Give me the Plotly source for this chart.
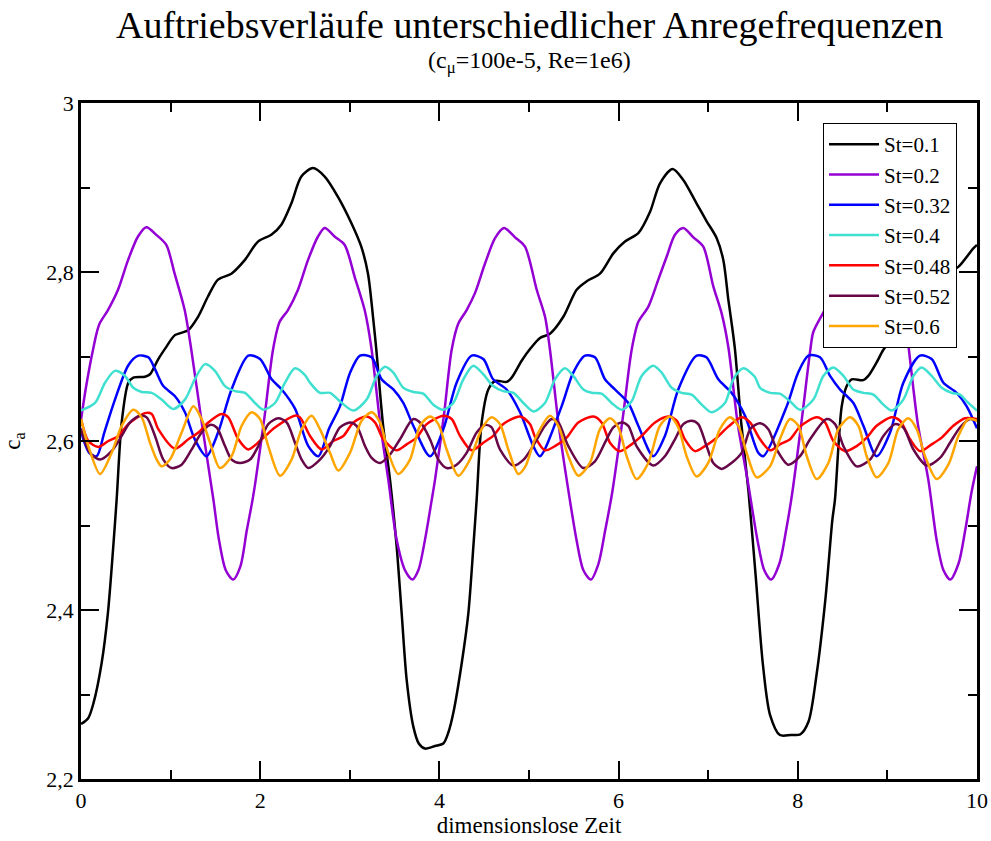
import plotly.graph_objects as go

# ---------------- data ----------------
t_01 = [0.0, 0.08, 0.14, 0.23, 0.30, 0.36, 0.398, 0.454, 0.528, 0.584, 0.714, 0.77, 0.863, 0.956, 1.045, 1.194, 1.306,
        1.417, 1.529, 1.678, 1.827, 1.975, 2.124, 2.236, 2.347, 2.459, 2.589, 2.72, 2.868, 3.017, 3.128,
        3.203, 3.259, 3.296, 3.37, 3.449, 3.523, 3.579, 3.635, 3.709, 3.77, 3.839, 3.951, 4.044, 4.10,
        4.155, 4.249, 4.323, 4.379, 4.416, 4.472, 4.546, 4.621, 4.751, 4.807, 4.918, 5.02, 5.123, 5.234,
        5.383, 5.532, 5.644, 5.792, 5.941, 6.071, 6.22, 6.35, 6.462, 6.603, 6.722, 6.871, 6.983, 7.095,
        7.169, 7.225, 7.262, 7.299, 7.37, 7.45, 7.53, 7.61, 7.69, 7.80, 7.92, 8.03, 8.12, 8.21, 8.31,
        8.385, 8.415, 8.49, 8.546, 8.601, 8.731, 8.787, 8.88, 8.955, 9.067, 9.196, 9.31, 9.42, 9.53,
        9.65, 9.791, 9.959, 10.0]
v_01 = [2.265, 2.272, 2.29, 2.337, 2.396, 2.475, 2.531, 2.622, 2.669, 2.675, 2.676, 2.679, 2.697, 2.712, 2.725, 2.731, 2.747,
        2.771, 2.791, 2.798, 2.814, 2.836, 2.844, 2.856, 2.881, 2.913, 2.923, 2.913, 2.889, 2.858, 2.83,
        2.798, 2.747, 2.708, 2.62, 2.554, 2.475, 2.396, 2.317, 2.262, 2.242, 2.236, 2.239, 2.242, 2.255,
        2.278, 2.337, 2.396, 2.475, 2.531, 2.622, 2.661, 2.671, 2.670, 2.675, 2.695, 2.71, 2.722, 2.727,
        2.747, 2.779, 2.789, 2.798, 2.822, 2.836, 2.846, 2.871, 2.905, 2.922, 2.909, 2.881, 2.86, 2.84,
        2.814, 2.767, 2.739, 2.708, 2.62, 2.54, 2.44, 2.336, 2.276, 2.252, 2.252, 2.253, 2.268, 2.324, 2.415,
        2.506, 2.531, 2.641, 2.665, 2.673, 2.672, 2.677, 2.693, 2.708, 2.722, 2.728, 2.745, 2.769, 2.789,
        2.797, 2.806, 2.828, 2.832]

t_02 = [0.0, 0.05, 0.1, 0.134, 0.175, 0.208, 0.301, 0.413, 0.525, 0.636, 0.729, 0.84, 0.952, 1.045, 1.157,
        1.231, 1.35, 1.477, 1.54, 1.616, 1.698, 1.78, 1.85, 1.914, 1.95, 2.05, 2.143, 2.217, 2.31, 2.422,
        2.533, 2.645, 2.72, 2.83, 2.943, 3.055, 3.166, 3.24, 3.34, 3.43, 3.523, 3.616, 3.698, 3.765, 3.839,
        3.914, 3.951, 4.05, 4.137, 4.211, 4.304, 4.397, 4.509, 4.621, 4.721, 4.844, 4.955, 5.086, 5.179,
        5.234, 5.33, 5.421, 5.532, 5.607, 5.69, 5.776, 5.85, 5.93, 6.05, 6.146, 6.22, 6.332, 6.443, 6.536,
        6.629, 6.722, 6.834, 6.945, 7.057, 7.15, 7.225, 7.33, 7.439, 7.551, 7.626, 7.701, 7.795, 7.869,
        7.94, 8.05, 8.14, 8.173, 8.3, 8.42, 8.53, 8.64, 8.72, 8.83, 8.94, 9.05, 9.16, 9.215, 9.24, 9.34,
        9.457, 9.551, 9.626, 9.701, 9.794, 9.868, 9.94, 10.0]
v_02 = [2.625, 2.66, 2.69, 2.708, 2.728, 2.739, 2.755, 2.779, 2.814, 2.842, 2.853, 2.844, 2.832, 2.798, 2.755,
        2.708, 2.62, 2.531, 2.483, 2.447, 2.436, 2.452, 2.494, 2.530, 2.554, 2.63, 2.708, 2.741, 2.755, 2.779,
        2.814, 2.842, 2.852, 2.842, 2.832, 2.794, 2.755, 2.711, 2.62, 2.554, 2.483, 2.447, 2.436, 2.447, 2.483,
        2.530, 2.554, 2.63, 2.708, 2.739, 2.755, 2.775, 2.81, 2.84, 2.852, 2.841, 2.83, 2.779, 2.747,
        2.708, 2.62, 2.554, 2.482, 2.447, 2.436, 2.455, 2.494, 2.54, 2.63, 2.708, 2.741, 2.759, 2.791, 2.818,
        2.844, 2.852, 2.841, 2.83, 2.783, 2.751, 2.711, 2.62, 2.554, 2.482, 2.447, 2.436, 2.455, 2.494,
        2.54, 2.63, 2.708, 2.729, 2.755, 2.779, 2.814, 2.842, 2.852, 2.842, 2.832, 2.794, 2.755, 2.729, 2.708, 2.62,
        2.554, 2.482, 2.447, 2.436, 2.455, 2.494, 2.54, 2.57]

t_032 = [0.0, 0.026, 0.1, 0.175, 0.26, 0.379, 0.53, 0.64, 0.752, 0.826, 0.919, 1.049, 1.16, 1.27, 1.40,
         1.53, 1.68, 1.867, 1.998, 2.128, 2.24, 2.39, 2.537, 2.649, 2.77, 2.89, 3.0, 3.114, 3.244, 3.355,
         3.486, 3.597, 3.709, 3.895, 4.044, 4.192, 4.36, 4.49, 4.60, 4.75, 4.90, 5.048, 5.122, 5.364, 5.49,
         5.625, 5.736, 5.848, 5.959, 6.108, 6.22, 6.387, 6.517, 6.666, 6.871, 6.98, 7.113, 7.26, 7.41,
         7.559, 7.616, 7.876, 8.0, 8.118, 8.248, 8.36, 8.471, 8.62, 8.732, 8.88, 9.03, 9.178, 9.364, 9.494,
         9.625, 9.773, 9.885, 10.0]
v_032 = [2.615, 2.602, 2.585, 2.582, 2.61, 2.649, 2.69, 2.701, 2.699, 2.685, 2.665, 2.653, 2.634, 2.602, 2.582,
         2.610, 2.661, 2.701, 2.697, 2.673, 2.661, 2.638, 2.594, 2.582, 2.615, 2.641, 2.68, 2.701, 2.699, 2.673,
         2.661, 2.645, 2.618, 2.582, 2.614, 2.669, 2.701, 2.697, 2.673, 2.661, 2.634, 2.594, 2.582, 2.641, 2.68,
         2.701, 2.699, 2.673, 2.661, 2.645, 2.618, 2.582, 2.606, 2.661, 2.701, 2.699, 2.673, 2.657, 2.630,
         2.586, 2.582, 2.641, 2.68, 2.701, 2.699, 2.677, 2.661, 2.645, 2.618, 2.582, 2.610, 2.669, 2.701, 2.697,
         2.669, 2.657, 2.641, 2.615]

t_04 = [0.0, 0.156, 0.268, 0.379, 0.491, 0.584, 0.677, 0.789, 0.90, 1.03, 1.16, 1.27, 1.384, 1.495, 1.607,
        1.719, 1.83, 1.942, 2.035, 2.165, 2.277, 2.388, 2.5, 2.556, 2.667, 2.779, 2.89, 3.04, 3.188, 3.30,
        3.393, 3.486, 3.597, 3.709, 3.82, 3.932, 4.044, 4.155, 4.267, 4.378, 4.49, 4.60, 4.713, 4.825, 4.937,
        5.05, 5.178, 5.29, 5.401, 5.494, 5.606, 5.699, 5.81, 5.922, 6.034, 6.145, 6.257, 6.387, 6.48, 6.592,
        6.703, 6.815, 6.927, 7.038, 7.187, 7.28, 7.392, 7.52, 7.579, 7.69, 7.8, 7.913, 8.025, 8.174, 8.285,
        8.397, 8.509, 8.62, 8.732, 8.843, 8.955, 9.048, 9.178, 9.29, 9.383, 9.494, 9.606, 9.718, 9.81, 9.885,
        10.0]
v_04 = [2.636, 2.645, 2.669, 2.683, 2.677, 2.663, 2.658, 2.657, 2.649, 2.638, 2.649, 2.673, 2.691, 2.683, 2.665,
        2.659, 2.657, 2.645, 2.637, 2.645, 2.669, 2.686, 2.678, 2.669, 2.657, 2.657, 2.647, 2.636, 2.649, 2.677,
        2.688, 2.681, 2.663, 2.658, 2.656, 2.643, 2.637, 2.645, 2.673, 2.689, 2.679, 2.665, 2.659, 2.657, 2.645,
        2.635, 2.645, 2.673, 2.686, 2.677, 2.661, 2.657, 2.656, 2.645, 2.637, 2.647, 2.677, 2.689, 2.681, 2.663,
        2.657, 2.655, 2.643, 2.634, 2.645, 2.673, 2.686, 2.676, 2.663, 2.657, 2.656, 2.647, 2.637, 2.649, 2.677,
        2.687, 2.677, 2.661, 2.657, 2.655, 2.643, 2.636, 2.649, 2.677, 2.687, 2.677, 2.663, 2.657, 2.655, 2.647,
        2.636]

t_048 = [0.0, 0.082, 0.193, 0.305, 0.417, 0.528, 0.714, 0.789, 0.863, 1.049, 1.198, 1.31, 1.421, 1.57, 1.644,
         1.756, 1.867, 2.016, 2.165, 2.388, 2.444, 2.556, 2.686, 2.816, 2.928, 3.04, 3.188, 3.281, 3.374,
         3.523, 3.634, 3.746, 3.858, 4.044, 4.137, 4.23, 4.36, 4.49, 4.60, 4.713, 4.9, 5.01, 5.067, 5.178,
         5.29, 5.42, 5.55, 5.718, 5.81, 5.904, 6.015, 6.145, 6.257, 6.406, 6.555, 6.648, 6.74, 6.852, 6.964,
         7.075, 7.224, 7.373, 7.467, 7.579, 7.69, 7.8, 7.913, 8.025, 8.211, 8.304, 8.397, 8.527, 8.657, 8.769,
         8.88, 9.048, 9.141, 9.253, 9.364, 9.494, 9.606, 9.736, 9.867, 10.0]
v_048 = [2.626, 2.600, 2.593, 2.600, 2.606, 2.620, 2.633, 2.632, 2.614, 2.591, 2.602, 2.610, 2.622, 2.632, 2.628,
         2.602, 2.590, 2.602, 2.616, 2.630, 2.628, 2.606, 2.590, 2.600, 2.606, 2.622, 2.629, 2.622, 2.602,
         2.589, 2.596, 2.604, 2.620, 2.630, 2.626, 2.606, 2.589, 2.598, 2.606, 2.620, 2.629, 2.620, 2.605, 2.589,
         2.594, 2.604, 2.622, 2.629, 2.622, 2.598, 2.588, 2.596, 2.606, 2.622, 2.629, 2.624, 2.602, 2.588, 2.594,
         2.602, 2.617, 2.628, 2.622, 2.602, 2.589, 2.596, 2.602, 2.617, 2.628, 2.622, 2.600, 2.588, 2.594, 2.604,
         2.618, 2.628, 2.624, 2.602, 2.588, 2.596, 2.604, 2.618, 2.627, 2.626]

t_052 = [0.0, 0.1, 0.212, 0.342, 0.454, 0.547, 0.658, 0.733, 0.826, 0.919, 1.012, 1.123, 1.235, 1.346, 1.44,
         1.514, 1.607, 1.681, 1.774, 1.886, 1.979, 2.09, 2.202, 2.295, 2.388, 2.463, 2.537, 2.667, 2.779,
         2.89, 3.002, 3.076, 3.17, 3.244, 3.337, 3.449, 3.56, 3.709, 3.802, 3.895, 3.988, 4.081, 4.192, 4.304,
         4.416, 4.508, 4.583, 4.676, 4.825, 4.94, 5.067, 5.178, 5.253, 5.327, 5.439, 5.606, 5.736, 5.848,
         5.941, 6.034, 6.108, 6.2, 6.387, 6.517, 6.629, 6.722, 6.815, 6.889, 6.982, 7.057, 7.15, 7.26, 7.373,
         7.475, 7.579, 7.671, 7.765, 7.895, 8.025, 8.137, 8.323, 8.416, 8.509, 8.657, 8.806, 8.955, 9.085,
         9.178, 9.29, 9.438, 9.587, 9.699, 9.81, 9.922, 10.0]
v_052 = [2.614, 2.586, 2.578, 2.588, 2.606, 2.622, 2.630, 2.628, 2.606, 2.578, 2.568, 2.572, 2.590, 2.610, 2.619,
         2.616, 2.594, 2.578, 2.574, 2.578, 2.594, 2.620, 2.627, 2.622, 2.598, 2.578, 2.568, 2.578, 2.594,
         2.616, 2.622, 2.618, 2.594, 2.580, 2.574, 2.584, 2.602, 2.626, 2.620, 2.602, 2.578, 2.568, 2.572, 2.586,
         2.610, 2.619, 2.616, 2.590, 2.571, 2.578, 2.598, 2.618, 2.626, 2.622, 2.594, 2.568, 2.576, 2.598,
         2.616, 2.622, 2.618, 2.594, 2.571, 2.582, 2.602, 2.620, 2.624, 2.620, 2.594, 2.574, 2.567, 2.574, 2.586,
         2.615, 2.621, 2.614, 2.590, 2.572, 2.582, 2.602, 2.626, 2.620, 2.594, 2.570, 2.578, 2.606, 2.620,
         2.616, 2.590, 2.571, 2.580, 2.598, 2.616, 2.626, 2.624]

t_06 = [0.0, 0.082, 0.212, 0.342, 0.454, 0.584, 0.677, 0.77, 0.845, 0.9, 0.993, 1.123, 1.254, 1.346, 1.44,
        1.551, 1.681, 1.793, 1.905, 1.998, 2.09, 2.221, 2.35, 2.463, 2.574, 2.667, 2.779, 2.872, 3.002,
        3.132, 3.244, 3.337, 3.43, 3.541, 3.672, 3.783, 3.895, 3.988, 4.081, 4.211, 4.341, 4.471, 4.583,
        4.676, 4.769, 4.881, 4.96, 5.067, 5.234, 5.327, 5.439, 5.55, 5.68, 5.792, 5.904, 5.997, 6.09, 6.201,
        6.331, 6.461, 6.573, 6.666, 6.759, 6.871, 7.0, 7.131, 7.243, 7.336, 7.429, 7.541, 7.69, 7.8, 7.913,
        8.006, 8.1, 8.211, 8.341, 8.453, 8.583, 8.676, 8.769, 8.88, 9.011, 9.122, 9.234, 9.327, 9.42, 9.55,
        9.68, 9.792, 9.903, 10.0]
v_06 = [2.626, 2.594, 2.561, 2.586, 2.618, 2.637, 2.628, 2.598, 2.578, 2.570, 2.578, 2.610, 2.641, 2.626, 2.598,
        2.568, 2.582, 2.618, 2.634, 2.626, 2.594, 2.559, 2.578, 2.614, 2.630, 2.614, 2.586, 2.565, 2.586,
        2.624, 2.634, 2.622, 2.586, 2.561, 2.578, 2.618, 2.629, 2.620, 2.590, 2.559, 2.578, 2.614, 2.628,
        2.620, 2.590, 2.561, 2.570, 2.602, 2.630, 2.618, 2.582, 2.559, 2.574, 2.614, 2.627, 2.616, 2.582, 2.555,
        2.574, 2.618, 2.629, 2.616, 2.582, 2.558, 2.574, 2.614, 2.628, 2.618, 2.586, 2.557, 2.570, 2.602, 2.626,
        2.618, 2.582, 2.555, 2.574, 2.614, 2.628, 2.618, 2.582, 2.557, 2.574, 2.614, 2.627, 2.614, 2.582, 2.555,
        2.572, 2.606, 2.626, 2.624]

series_names = ["St=0.1", "St=0.2", "St=0.32", "St=0.4", "St=0.48", "St=0.52", "St=0.6"]
series_t = [t_01, t_02, t_032, t_04, t_048, t_052, t_06]
series_v = [v_01, v_02, v_032, v_04, v_048, v_052, v_06]
series_colors = ["#000000", "#9400D3", "#0000FF", "#40E0D0", "#FF0000", "#670748", "#FFA500"]

title_text = "Auftriebsverläufe unterschiedlicher Anregefrequenzen"
subtitle_text = "(c<sub>μ</sub>=100e-5, Re=1e6)"
x_title = "dimensionslose Zeit"
y_title = "c<sub>a</sub>"

# ---------------- figure ----------------
FONT = "Liberation Serif"
fig = go.Figure()
for name, tt, vv, col in zip(series_names, series_t, series_v, series_colors):
    fig.add_trace(go.Scatter(x=tt, y=vv, mode="lines", name=name,
                             line=dict(color=col, width=2.5, shape="spline", smoothing=0.8)))

axis_common = dict(
    showline=True, linecolor="black", linewidth=2.5, mirror="allticks",
    ticks="inside", ticklen=18, tickwidth=1.5, tickcolor="black",
    showgrid=False, zeroline=False,
    tickfont=dict(family=FONT, size=22, color="black"),
)
fig.update_xaxes(range=[0, 10], dtick=2, tick0=0,
                 minor=dict(dtick=1, ticklen=9, tickwidth=1.5, tickcolor="black", ticks="inside", showgrid=False),
                 title=dict(text=x_title, font=dict(family=FONT, size=23, color="black"), standoff=2),
                 **axis_common)
fig.update_yaxes(range=[2.2, 3.0], dtick=0.2, tick0=2.2,
                 minor=dict(dtick=0.1, ticklen=9, tickwidth=1.5, tickcolor="black", ticks="inside", showgrid=False),
                 title=dict(text=y_title, font=dict(family=FONT, size=23, color="black"), standoff=20),
                 **axis_common)

fig.update_layout(
    width=991, height=841,
    margin=dict(l=81, r=14, t=103, b=62, autoexpand=False),
    paper_bgcolor="white", plot_bgcolor="white",
    separators=",.",
    font=dict(family=FONT, color="black"),
    showlegend=True,
    legend=dict(x=0.9777, y=0.9704, xanchor="right", yanchor="top",
                bgcolor="white", bordercolor="black", borderwidth=1,
                font=dict(family=FONT, size=21, color="black"),
                tracegroupgap=0, itemwidth=50),
    annotations=[
        dict(text=title_text, xref="paper", yref="paper", x=0.5, y=1, yshift=78,
             xanchor="center", yanchor="middle", showarrow=False,
             font=dict(family=FONT, size=38, color="black")),
        dict(text=subtitle_text, xref="paper", yref="paper", x=0.5, y=1, yshift=41,
             xanchor="center", yanchor="middle", showarrow=False,
             font=dict(family=FONT, size=24, color="black")),
    ],
)

fig.write_html("out.html", config={"displayModeBar": False},
               post_script="document.body.style.margin='0px';")
